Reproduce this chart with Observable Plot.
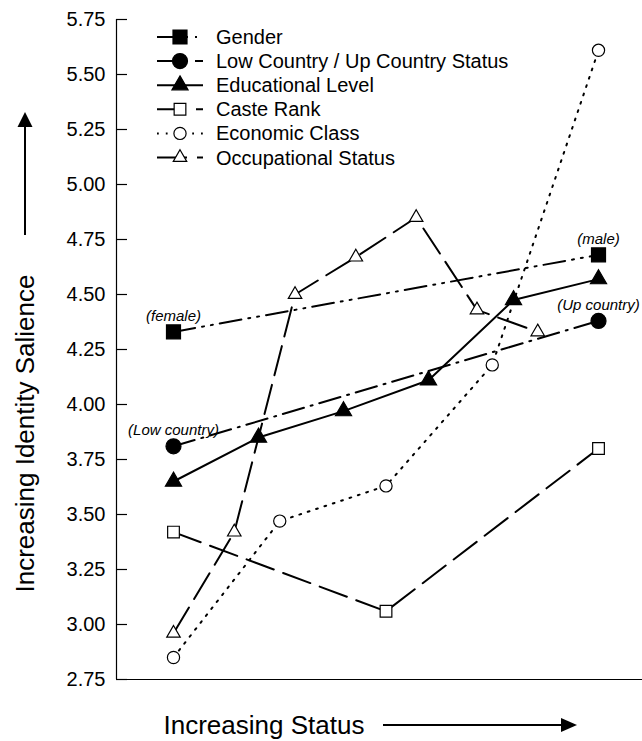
<!DOCTYPE html>
<html>
<head>
<meta charset="utf-8">
<script src="https://cdn.jsdelivr.net/npm/d3@7"></script>
<script src="https://cdn.jsdelivr.net/npm/@observablehq/plot@0.6"></script>
<style>
  body { margin: 0; background: #fff; }
  #chart { width: 642px; height: 741px; overflow: hidden; }
</style>
</head>
<body>
<div id="chart"></div>
<script>
// ---------- data ----------
const seriesNames = [
  "Gender",
  "Low Country / Up Country Status",
  "Educational Level",
  "Caste Rank",
  "Economic Class",
  "Occupational Status"
];
const statusGender = [0, 1];
const genderValues = [4.33, 4.68];
const genderNotes = ["(female)", "(male)"];

const statusCountry = [0, 1];
const countryValues = [3.81, 4.38];
const countryNotes = ["(Low country)", "(Up country)"];

const statusEducation = [0, 0.2, 0.4, 0.6, 0.8, 1];
const educationValues = [3.65, 3.85, 3.97, 4.11, 4.475, 4.57];

const statusCaste = [0, 0.5, 1];
const casteValues = [3.42, 3.06, 3.80];

const statusEconomic = [0, 0.25, 0.5, 0.75, 1];
const economicValues = [2.85, 3.47, 3.63, 4.18, 5.61];

const statusOccupation = [0, 0.143, 0.286, 0.429, 0.571, 0.714, 0.857];
const occupationValues = [2.96, 3.42, 4.50, 4.67, 4.85, 4.43, 4.33];

const yTicks = [2.75, 3.00, 3.25, 3.50, 3.75, 4.00, 4.25, 4.50, 4.75, 5.00, 5.25, 5.50, 5.75];
const xLabel = "Increasing Status";
const yLabel = "Increasing Identity Salience";

// ---------- styles ----------
const seriesStyles = [
  {symbol: "square",   fill: "black", r: 7.9, dash: "22,7,2,7,2,7"},
  {symbol: "circle",   fill: "black", r: 7.5, dash: "22,7,2,7"},
  {symbol: "triangle", fill: "black", r: 6.0, dash: null},
  {symbol: "square",   fill: "white", r: 6.6, dash: "29,10"},
  {symbol: "circle",   fill: "white", r: 6.1, dash: "1.8,7"},
  {symbol: "triangle", fill: "white", r: 5.0, dash: "30,10"}
];

const seriesX = [statusGender, statusCountry, statusEducation, statusCaste, statusEconomic, statusOccupation];
const seriesY = [genderValues, countryValues, educationValues, casteValues, economicValues, occupationValues];

const series = seriesNames.map((name, k) => ({
  name,
  ...seriesStyles[k],
  rows: seriesX[k].map((s, i) => ({status: s, value: seriesY[k][i]}))
}));

const genderRows = statusGender.map((s, i) => ({status: s, value: genderValues[i], note: genderNotes[i]}));
const countryRows = statusCountry.map((s, i) => ({status: s, value: countryValues[i], note: countryNotes[i]}));

const xDomain = [-0.1341, 1.1035];
const yDomain = [2.75, 5.75];
const font = "'Liberation Sans', Arial, Helvetica, sans-serif";

const marks = [
  Plot.ruleX([xDomain[0]], {stroke: "black", strokeWidth: 1.2}),
  Plot.ruleY([yDomain[0]], {stroke: "black", strokeWidth: 1.2}),
  Plot.axisY({ticks: yTicks, tickFormat: d3.format(".2f"), tickSize: -11, tickPadding: 22, label: null, fontSize: 20, strokeWidth: 1.2})
];
for (const s of series) {
  marks.push(Plot.line(s.rows, {x: "status", y: "value", stroke: "black", strokeWidth: 2, strokeDasharray: s.dash ?? undefined}));
}
for (const s of series) {
  marks.push(Plot.dot(s.rows, {x: "status", y: "value", symbol: s.symbol, r: s.r, fill: s.fill, stroke: "black", strokeWidth: 1.2}));
}
marks.push(
  Plot.text(genderRows, {x: "status", y: "value", text: "note", dy: -11, lineAnchor: "bottom", fontStyle: "italic", fontSize: 15}),
  Plot.text(countryRows, {x: "status", y: "value", text: "note", dy: -11, lineAnchor: "bottom", fontStyle: "italic", fontSize: 15}),
  Plot.text([xLabel], {frameAnchor: "bottom-left", text: d => d, textAnchor: "start", lineAnchor: "bottom", dx: 47, dy: 54, fontSize: 26}),
  Plot.text([yLabel], {frameAnchor: "bottom-left", text: d => d, rotate: -90, textAnchor: "start", lineAnchor: "bottom", dx: -83, dy: -87, fontSize: 26})
);

const chart = Plot.plot({
  width: 642,
  height: 741,
  marginLeft: 116,
  marginRight: 0,
  marginTop: 19,
  marginBottom: 62,
  style: {fontFamily: font, fontSize: "20px", color: "black", background: "white"},
  x: {domain: xDomain, axis: null},
  y: {domain: yDomain},
  marks
});

// ---------- decorations: axis arrows and legend ----------
const svg = d3.select(chart);
const deco = svg.append("g");
// vertical arrow (y label)
deco.append("line").attr("x1", 25).attr("x2", 25).attr("y1", 235).attr("y2", 124)
  .attr("stroke", "black").attr("stroke-width", 2);
deco.append("path").attr("d", "M25,112L17.5,127L32.5,127Z").attr("fill", "black");
// horizontal arrow (x label)
deco.append("line").attr("x1", 383).attr("x2", 563).attr("y1", 725).attr("y2", 725)
  .attr("stroke", "black").attr("stroke-width", 2);
deco.append("path").attr("d", "M577,725L561,718L561,732Z").attr("fill", "black");

// legend
const symbolTypes = {square: d3.symbolSquare, circle: d3.symbolCircle, triangle: d3.symbolTriangle};
const legend = svg.append("g")
  .attr("font-family", font).attr("font-size", 20).attr("text-anchor", "start");
series.forEach((s, i) => {
  const y = 37 + i * 24.1;
  const g = legend.append("g").attr("transform", `translate(0,${y})`);
  g.append("line").attr("x1", 157).attr("x2", 203).attr("y1", 0).attr("y2", 0)
    .attr("stroke", "black").attr("stroke-width", 2)
    .attr("stroke-dasharray", s.dash);
  g.append("path").attr("transform", "translate(180,0)")
    .attr("d", d3.symbol(symbolTypes[s.symbol], s.r * s.r * Math.PI)())
    .attr("fill", s.fill).attr("stroke", "black").attr("stroke-width", 1.2);
  g.append("text").attr("x", 216).attr("y", 7).attr("text-anchor", "start").text(s.name);
});

document.getElementById("chart").appendChild(chart);
</script>
</body>
</html>
